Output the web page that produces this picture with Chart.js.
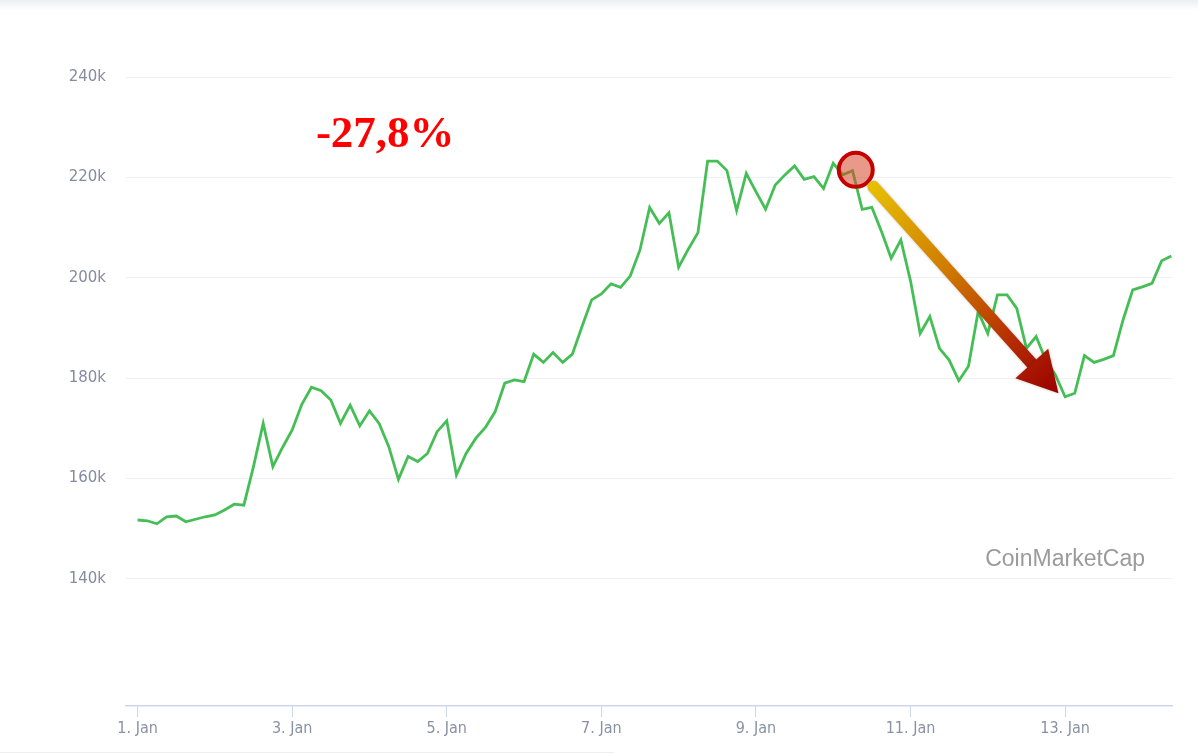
<!DOCTYPE html>
<html>
<head>
<meta charset="utf-8">
<script src="https://cdn.jsdelivr.net/npm/chart.js@4"></script>
<style>
  html, body { margin: 0; padding: 0; background: #ffffff; }
  #wrap { position: relative; width: 1198px; height: 754px; overflow: hidden; }
  #topband { position: absolute; left: 0; top: 0; width: 1198px; height: 10px;
             background: linear-gradient(#eceef1, #ffffff); }
  #botline { position: absolute; left: 0; top: 752px; width: 614px; height: 1px; background: #eeeeee; }
  canvas { position: absolute; left: 0; top: 0; }
</style>
</head>
<body>
<div id="wrap">
  <canvas id="c" width="1198" height="754"></canvas>
  <div id="topband"></div>
  <div id="botline"></div>
</div>
<script>
// ---- data (values in thousands, one sample every 3 hours from 1 Jan 00:00) ----
const sampleStepHours = 3;
const values = [
  151.75, 151.6, 151.0, 152.4, 152.55, 151.4, 151.9, 152.4, 152.75, 153.75,
  154.9, 154.7, 162.45, 171.0, 162.4, 166.2, 169.7, 174.8, 178.2, 177.5,
  175.65, 171.0, 174.65, 170.5, 173.5, 171.0, 166.35, 159.85, 164.4, 163.4,
  165.0, 169.35, 171.5, 160.7, 165.0, 168.0, 170.2, 173.3, 179.0, 179.65,
  179.3, 184.8, 183.15, 185.1, 183.15, 184.8, 190.3, 195.6, 196.8, 198.8,
  198.1, 200.4, 205.55, 214.0, 210.85, 212.95, 202.1, 205.7, 209.0, 223.25,
  223.25, 221.35, 213.4, 220.8, 217.15, 213.65, 218.5, 220.5, 222.3, 219.6,
  220.15, 217.8, 222.8, 220.5, 221.35, 213.65, 214.05, 209.2, 203.9, 207.55,
  199.4, 188.9, 192.3, 185.95, 183.6, 179.5, 182.4, 193.25, 188.9, 196.6,
  196.6, 193.9, 185.95, 188.3, 183.6, 180.65, 176.3, 177.0, 184.5, 183.15,
  183.75, 184.5, 191.6, 197.6, 198.2, 198.9, 203.4, 204.35
];
const xTickDays   = [1, 3, 5, 7, 9, 11, 13];
const xTickLabels = ["1. Jan", "3. Jan", "5. Jan", "7. Jan", "9. Jan", "11. Jan", "13. Jan"];
const yTicks      = [140, 160, 180, 200, 220, 240];
const yTickLabels = ["140k", "160k", "180k", "200k", "220k", "240k"];

// ---- annotation anchors (hours since 1 Jan 00:00, value in k) ----
const changeText = "-27,8%";
const textAnchor = { x: 76.9, y: 226.1 };
const circleAnchor = { x: 223.0, y: 221.5 };
const arrowStart = { x: 228.5, y: 218.15 };
const arrowTip   = { x: 285.95, y: 176.99 };
const watermark = "CoinMarketCap";

const points = values.map((v, i) => ({ x: i * sampleStepHours, y: v }));
const dayToHour = d => (d - 1) * 24;

const annotations = {
  id: 'annotations',
  afterDatasetsDraw(chart) {
    const ctx = chart.ctx, xs = chart.scales.x, ys = chart.scales.y, ca = chart.chartArea;
    const P = p => ({ x: xs.getPixelForValue(p.x), y: ys.getPixelForValue(p.y) });
    ctx.save();
    // watermark
    ctx.font = '23px "Liberation Sans", Arial, sans-serif';
    ctx.fillStyle = '#9b9b9b';
    ctx.textAlign = 'right';
    ctx.textBaseline = 'alphabetic';
    ctx.fillText(watermark, ca.right - 27, 566);
    // percent text
    const t = P(textAnchor);
    ctx.font = 'bold 45px "Liberation Serif", "Times New Roman", serif';
    ctx.fillStyle = '#ff0000';
    ctx.textAlign = 'center';
    ctx.fillText(changeText, t.x, t.y);
    // circle
    const c = P(circleAnchor);
    ctx.beginPath();
    ctx.arc(c.x, c.y, 17, 0, Math.PI * 2);
    ctx.fillStyle = 'rgba(214,70,40,0.55)';
    ctx.fill();
    ctx.lineWidth = 4;
    ctx.strokeStyle = '#c40000';
    ctx.stroke();
    // arrow
    const a = P(arrowStart), b = P(arrowTip);
    const dx = b.x - a.x, dy = b.y - a.y, len = Math.hypot(dx, dy);
    const ux = dx / len, uy = dy / len, nx = -uy, ny = ux;
    const headLen = 40, headHalf = 22;
    const bx = b.x - ux * headLen, by = b.y - uy * headLen;
    const grad = ctx.createLinearGradient(a.x, a.y, b.x, b.y);
    grad.addColorStop(0, '#e6be00');
    grad.addColorStop(0.4, '#d07a00');
    grad.addColorStop(0.75, '#b42c00');
    grad.addColorStop(1, '#9a0000');
    ctx.shadowColor = 'rgba(0,0,0,0.25)';
    ctx.shadowBlur = 3;
    ctx.beginPath();
    ctx.moveTo(a.x, a.y);
    ctx.lineTo(bx + ux * 4, by + uy * 4);
    ctx.lineWidth = 12;
    ctx.lineCap = 'round';
    ctx.strokeStyle = grad;
    ctx.stroke();
    ctx.beginPath();
    ctx.moveTo(b.x, b.y);
    ctx.lineTo(bx + nx * headHalf, by + ny * headHalf);
    ctx.lineTo(bx - nx * headHalf, by - ny * headHalf);
    ctx.closePath();
    ctx.fillStyle = grad;
    ctx.fill();
    ctx.restore();
  }
};

new Chart(document.getElementById('c'), {
  type: 'line',
  data: {
    datasets: [{
      data: points,
      borderColor: '#45be56',
      borderWidth: 2.8,
      pointRadius: 0,
      tension: 0,
      fill: false
    }]
  },
  options: {
    responsive: false,
    animation: false,
    layout: { padding: { left: 0, right: 26, top: 77, bottom: 0 } },
    plugins: { legend: { display: false }, tooltip: { enabled: false } },
    scales: {
      x: {
        type: 'linear',
        min: -3.6,
        max: 321.2,
        afterBuildTicks: s => { s.ticks = xTickDays.map(d => ({ value: dayToHour(d) })); },
        afterFit: s => { s.height = 48; },
        grid: { drawOnChartArea: false, drawTicks: true, tickLength: 11, color: '#ccd6eb', lineWidth: 1 },
        border: { display: true, color: '#ccd6eb', width: 1.5 },
        ticks: {
          autoSkip: false,
          maxRotation: 0,
          padding: 2,
          color: '#8a91a5',
          font: { family: '"DejaVu Sans Condensed", "Liberation Sans Narrow", sans-serif', size: 16 },
          callback: (v) => { const i = xTickDays.findIndex(d => dayToHour(d) === v); return i >= 0 ? xTickLabels[i] : ''; }
        }
      },
      y: {
        min: 114.7,
        max: 240,
        afterBuildTicks: s => { s.ticks = yTicks.map(v => ({ value: v })); },
        afterFit: s => { s.width = 126; },
        grid: { drawTicks: false, color: '#eef0f5', lineWidth: 1 },
        border: { display: false },
        ticks: {
          padding: 20,
          color: '#858ba0',
          font: { family: '"DejaVu Sans", sans-serif', size: 15 },
          callback: (v) => { const i = yTicks.indexOf(v); return i >= 0 ? yTickLabels[i] : ''; }
        }
      }
    }
  },
  plugins: [annotations]
});
</script>
</body>
</html>
